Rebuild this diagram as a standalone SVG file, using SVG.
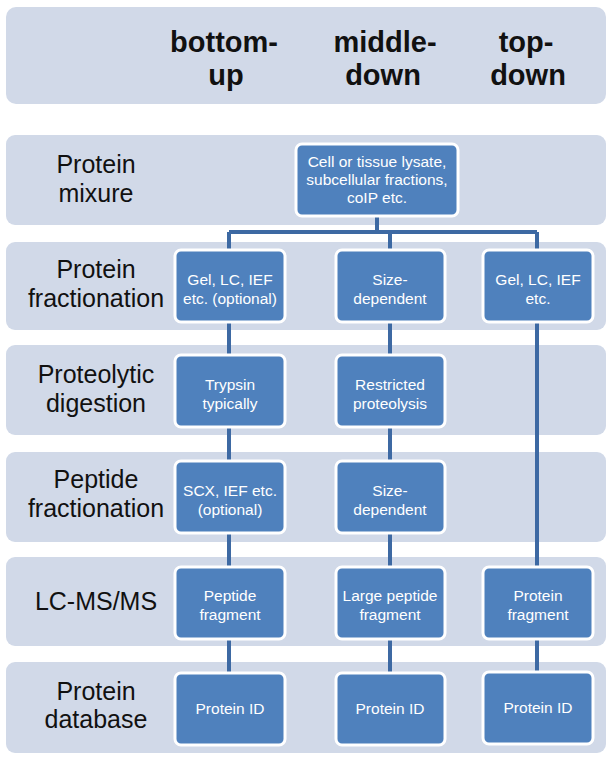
<svg xmlns="http://www.w3.org/2000/svg" width="613" height="762" viewBox="0 0 613 762">
<style>
.band{fill:#D1D9E8}
.box{fill:#4F81BD;stroke:#FFFFFF;stroke-width:3}
.lbl{font-family:"Liberation Sans",Arial,sans-serif;font-size:25px;fill:#111;text-anchor:middle}
.hdr{font-family:"Liberation Sans",Arial,sans-serif;font-size:29px;font-weight:bold;fill:#111;text-anchor:middle}
.bt{font-family:"Liberation Sans",Arial,sans-serif;font-size:15.5px;fill:#FFFFFF;text-anchor:middle}
.con{fill:none;stroke:#3D69A3;stroke-width:4}
</style>
<rect fill="#FFFFFF" x="0" y="0" width="613" height="762"/>
<g id="bands">
<rect class="band" x="6" y="7" width="600" height="97" rx="10"/>
<rect class="band" x="6" y="135" width="600" height="90" rx="9"/>
<rect class="band" x="6" y="242" width="600" height="88" rx="9"/>
<rect class="band" x="6" y="345" width="600" height="90" rx="9"/>
<rect class="band" x="6" y="452" width="600" height="90" rx="9"/>
<rect class="band" x="6" y="557" width="600" height="89" rx="9"/>
<rect class="band" x="6" y="662" width="600" height="91" rx="9"/>
</g>
<g id="headers">
<text class="hdr" x="224" y="52">bottom-</text>
<text class="hdr" x="226" y="85">up</text>
<text class="hdr" x="385" y="52">middle-</text>
<text class="hdr" x="383" y="85">down</text>
<text class="hdr" x="526" y="52">top-</text>
<text class="hdr" x="528" y="85">down</text>
</g>
<g id="row-labels">
<text class="lbl" x="96" y="173">Protein</text>
<text class="lbl" x="96" y="202">mixure</text>
<text class="lbl" x="96" y="278">Protein</text>
<text class="lbl" x="96" y="307">fractionation</text>
<text class="lbl" x="96" y="383">Proteolytic</text>
<text class="lbl" x="96" y="412">digestion</text>
<text class="lbl" x="96" y="488">Peptide</text>
<text class="lbl" x="96" y="517">fractionation</text>
<text class="lbl" x="96" y="610">LC-MS/MS</text>
<text class="lbl" x="96" y="700">Protein</text>
<text class="lbl" x="96" y="728">database</text>
</g>
<g id="connectors">
<path class="con" d="M377 217 V232 M229 232 H537 M229 232 V250 M390 232 V250 M537 232 V250"/>
<path class="con" d="M229 322 V355 M229 427 V461 M229 533 V567 M229 639 V673"/>
<path class="con" d="M390 322 V355 M390 427 V461 M390 533 V567 M390 639 V673"/>
<path class="con" d="M537 322 V567 M537 639 V673"/>
</g>
<g id="lysate">
<rect class="box" x="296" y="144" width="162" height="72" rx="6"/>
<text class="bt" x="377" y="167">Cell or tissue lysate,</text>
<text class="bt" x="377" y="185">subcellular fractions,</text>
<text class="bt" x="377" y="203">coIP etc.</text>
</g>
<g id="bu-protfrac">
<rect class="box" x="175" y="250" width="110" height="72" rx="6"/>
<text class="bt" x="230" y="285">Gel, LC, IEF</text>
<text class="bt" x="230" y="304">etc. (optional)</text>
</g>
<g id="md-protfrac">
<rect class="box" x="336" y="250" width="109" height="72" rx="6"/>
<text class="bt" x="390" y="285">Size-</text>
<text class="bt" x="390" y="304">dependent</text>
</g>
<g id="td-protfrac">
<rect class="box" x="483" y="250" width="110" height="72" rx="6"/>
<text class="bt" x="538" y="285">Gel, LC, IEF</text>
<text class="bt" x="538" y="304">etc.</text>
</g>
<g id="bu-digest">
<rect class="box" x="175" y="355" width="110" height="72" rx="6"/>
<text class="bt" x="230" y="390">Trypsin</text>
<text class="bt" x="230" y="409">typically</text>
</g>
<g id="md-digest">
<rect class="box" x="336" y="355" width="109" height="72" rx="6"/>
<text class="bt" x="390" y="390">Restricted</text>
<text class="bt" x="390" y="409">proteolysis</text>
</g>
<g id="bu-pepfrac">
<rect class="box" x="175" y="461" width="110" height="72" rx="6"/>
<text class="bt" x="230" y="496">SCX, IEF etc.</text>
<text class="bt" x="230" y="515">(optional)</text>
</g>
<g id="md-pepfrac">
<rect class="box" x="336" y="461" width="109" height="72" rx="6"/>
<text class="bt" x="390" y="496">Size-</text>
<text class="bt" x="390" y="515">dependent</text>
</g>
<g id="bu-lcms">
<rect class="box" x="175" y="567" width="110" height="72" rx="6"/>
<text class="bt" x="230" y="601">Peptide</text>
<text class="bt" x="230" y="620">fragment</text>
</g>
<g id="md-lcms">
<rect class="box" x="336" y="567" width="109" height="72" rx="6"/>
<text class="bt" x="390" y="601">Large peptide</text>
<text class="bt" x="390" y="620">fragment</text>
</g>
<g id="td-lcms">
<rect class="box" x="483" y="567" width="110" height="72" rx="6"/>
<text class="bt" x="538" y="601">Protein</text>
<text class="bt" x="538" y="620">fragment</text>
</g>
<g id="bu-db">
<rect class="box" x="175" y="673" width="110" height="72" rx="6"/>
<text class="bt" x="230" y="714">Protein ID</text>
</g>
<g id="md-db">
<rect class="box" x="336" y="673" width="109" height="72" rx="6"/>
<text class="bt" x="390" y="714">Protein ID</text>
</g>
<g id="td-db">
<rect class="box" x="483" y="672" width="110" height="72" rx="6"/>
<text class="bt" x="538" y="713">Protein ID</text>
</g>
</svg>
